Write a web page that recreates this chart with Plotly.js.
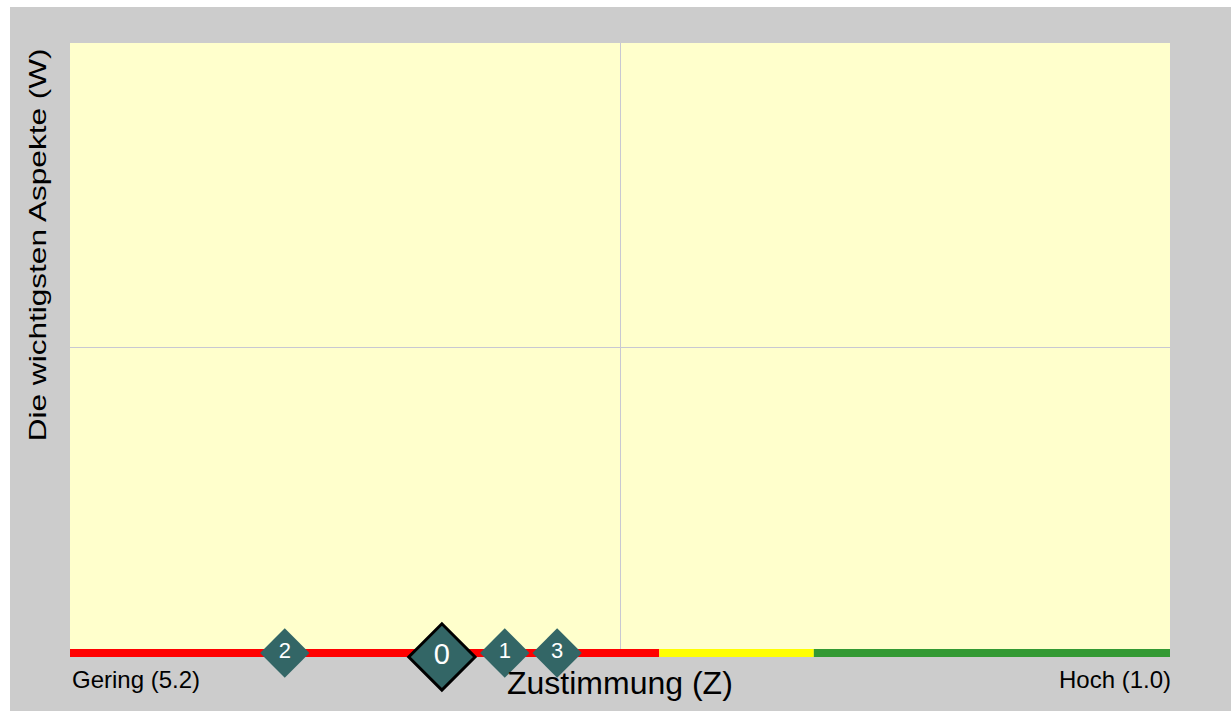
<!DOCTYPE html>
<html>
<head>
<meta charset="utf-8">
<script src="https://cdn.plot.ly/plotly-3.0.1.min.js"></script>
<style>
  html, body { margin: 0; padding: 0; background: #ffffff; }
  #chart { position: absolute; left: 10px; top: 7px; width: 1221px; height: 704px; }
</style>
</head>
<body>
<div id="chart"></div>
<script>
// ---- data ----
const pointLabels = ['0', '1', '2', '3'];
const zustimmung = [3.78, 3.54, 4.38, 3.34];   // Z value (x)
const aspekte    = [-0.0065, 0, 0, 0];         // W value (y)
const zoneNames  = ['Gering', 'Mittel', 'Hoch'];
const zoneFrom   = [5.2, 2.95, 2.36];
const zoneTo     = [2.95, 2.36, 1.0];
const zoneLevel  = [0, 0, 0];
const xMin = 5.2, xMax = 1.0, xMid = 3.1;
const xTitle = 'Zustimmung (Z)';
const yTitle = 'Die wichtigsten Aspekte (W)';
const lowLabel = 'Gering (5.2)';
const highLabel = 'Hoch (1.0)';

// ---- styles ----
const zoneColors = ['#ff0000', '#ffff00', '#339933'];
const fontFam = 'Liberation Sans, Arial, Helvetica, sans-serif';
const markerColor = '#336666';

const traces = [];
zoneNames.forEach((name, i) => {
  traces.push({
    type: 'scatter', mode: 'lines', name: name,
    x: [zoneFrom[i], zoneTo[i]], y: [zoneLevel[i], zoneLevel[i]],
    line: { color: zoneColors[i], width: 8 },
    hoverinfo: 'skip', showlegend: false
  });
});

// regular points (all except the highlighted '0')
const idxOther = pointLabels.map((l, i) => i).filter(i => pointLabels[i] !== '0');
traces.push({
  type: 'scatter', mode: 'markers+text',
  x: idxOther.map(i => zustimmung[i]), y: idxOther.map(i => aspekte[i]),
  text: idxOther.map(i => pointLabels[i]),
  textposition: 'middle center',
  textfont: { color: '#ffffff', size: 22, family: fontFam },
  marker: { symbol: 'diamond', size: 38, color: markerColor, line: { width: 0 } },
  cliponaxis: false, showlegend: false
});
// highlighted point '0'
const idxMain = pointLabels.indexOf('0');
traces.push({
  type: 'scatter', mode: 'markers+text',
  x: [zustimmung[idxMain]], y: [aspekte[idxMain]],
  text: [pointLabels[idxMain]],
  textposition: 'middle center',
  textfont: { color: '#ffffff', size: 29, family: fontFam },
  marker: { symbol: 'diamond', size: 51, color: markerColor, line: { width: 3, color: '#000000' } },
  cliponaxis: false, showlegend: false
});

const layout = {
  width: 1221, height: 704,
  paper_bgcolor: '#cccccc', plot_bgcolor: '#ffffcc',
  margin: { l: 60, r: 61, t: 36, b: 54, pad: 0 },
  font: { family: fontFam, color: '#000000' },
  showlegend: false,
  xaxis: {
    range: [xMin, xMax], tickvals: [xMid], showticklabels: false, ticks: '',
    showgrid: true, gridcolor: '#c8c8d2', gridwidth: 1, zeroline: false, showline: false,
    fixedrange: true
  },
  yaxis: {
    range: [-0.0066, 1], tickvals: [0.5], showticklabels: false, ticks: '',
    showgrid: true, gridcolor: '#c8c8d2', gridwidth: 1, zeroline: false, showline: false,
    fixedrange: true
  },
  annotations: [
    { text: lowLabel, xref: 'paper', yref: 'paper', x: 0, y: 0, xanchor: 'left', yanchor: 'top',
      yshift: -7, showarrow: false, font: { size: 24, family: fontFam, color: '#000' } },
    { text: highLabel, xref: 'paper', yref: 'paper', x: 1, y: 0, xanchor: 'right', yanchor: 'top',
      xshift: 3, yshift: -7, showarrow: false, font: { size: 24, family: fontFam, color: '#000' } },
    { text: xTitle, xref: 'paper', yref: 'paper', x: 0.5, y: 0, xanchor: 'center', yanchor: 'top',
      yshift: -6, showarrow: false, font: { size: 32, family: fontFam, color: '#000' } },
    { text: yTitle, xref: 'paper', yref: 'paper', x: -0.0291, y: 0.671, xanchor: 'center', yanchor: 'middle',
      textangle: -90, showarrow: false, font: { size: 23, family: fontFam, color: '#000' } }
  ]
};

Plotly.newPlot('chart', traces, layout, { displayModeBar: false, staticPlot: true }).then(() => {
  document.querySelectorAll('#chart text.annotation-text').forEach(t => {
    if (t.textContent === yTitle) {
      const len = t.getComputedTextLength();
      const s = 393 / len;
      const cx = parseFloat(t.getAttribute('x')) || 0;
      t.setAttribute('transform', `translate(${cx},0) scale(${s},1) translate(${-cx},0)`);
    }
  });
});
</script>
</body>
</html>
